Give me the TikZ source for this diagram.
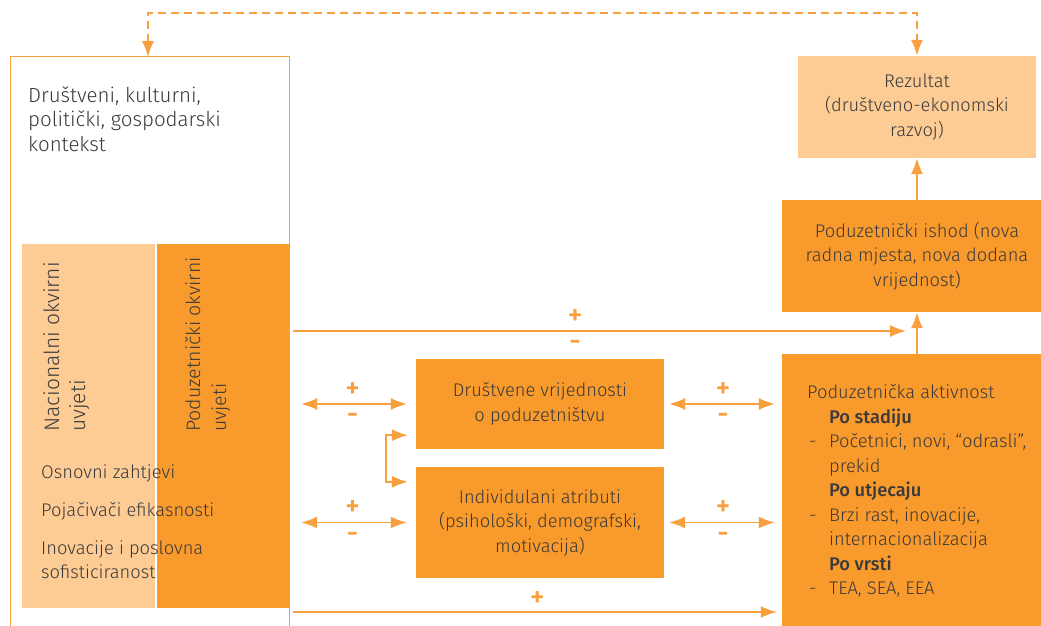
\documentclass[tikz,border=0pt]{standalone}
\usepackage{fontspec}
\setmainfont{Fira Sans}[UprightFont={* Light}, BoldFont={* Medium}]
\usetikzlibrary{arrows.meta}
\definecolor{orangedark}{HTML}{F99A2C}
\definecolor{orangelight}{HTML}{FDCB94}
\definecolor{orangeline}{HTML}{F8A03F}
\definecolor{textgrey}{HTML}{3A3A3A}

\begin{document}
\begin{tikzpicture}[x=1pt, y=-1pt,
  every node/.style={text=textgrey, font=\fontsize{18.3}{24.5}\selectfont},
  darkbox/.style={fill=orangedark, inner sep=0pt},
  lightbox/.style={fill=orangelight, inner sep=0pt},
  arr/.style={draw=orangeline, line width=1.6pt, -{Latex[length=16pt,width=12pt]}},
  dblarr/.style={draw=orangeline, line width=1.6pt, {Latex[length=16pt,width=12pt]}-{Latex[length=16pt,width=12pt]}},
  pmsign/.style={text=orangeline, inner sep=0pt, font=\fontsize{28}{28}\selectfont\bfseries}]
\useasboundingbox (0,0) rectangle (1041,626);

% Context frame, open at the bottom
\draw[orangeline, line width=1pt] (10,640) -- (10,57) -- (289,57) coordinate (ctxtr) -- (289,640);
\coordinate (ctxtop) at (148,57);
\coordinate (ctxbot) at (289,612);
\node[anchor=west, align=left, inner sep=0pt, font=\fontsize{20.5}{24.5}\selectfont] (ctxtext) at (28,119) {Društveni, kulturni,\\politički, gospodarski\\kontekst};

% Framework conditions
\node[lightbox, minimum width=133pt, minimum height=364pt] (nacion) at (88.5,426) {};
\node[darkbox, minimum width=132pt, minimum height=364pt] (poduz) at (223,426) {};
\node[rotate=90, anchor=north west, align=left, inner sep=0pt, font=\fontsize{21}{26}\selectfont] (naciontext) at (43,432) {Nacionalni okvirni\\uvjeti};
\node[rotate=90, anchor=north west, align=left, inner sep=0pt, font=\fontsize{19.5}{26}\selectfont] (poduztext) at (185,432) {Poduzetnički okvirni\\uvjeti};
\node[anchor=west, inner sep=0pt] (req) at (41,473) {Osnovni zahtjevi};
\node[anchor=west, inner sep=0pt] (eff) at (41,511) {Pojačivači efikasnosti};
\node[anchor=west, align=left, inner sep=0pt] (inov) at (41,559.5) {Inovacije i poslovna\\sofisticiranost};

% Middle boxes
\node[darkbox, minimum width=248pt, minimum height=90pt, align=center] (drust) at (540,404) {Društvene vrijednosti\\o poduzetništvu};
\node[darkbox, minimum width=248pt, minimum height=111pt, align=center] (indiv) at (540,522.5) {Individulani atributi\\(psihološki, demografski,\\motivacija)};

% Right column
\node[lightbox, minimum width=238pt, minimum height=102pt, align=center] (rez) at (917,107) {Rezultat\\(društveno-ekonomski\\razvoj)};
\node[darkbox, minimum width=270pt, minimum height=112pt, align=center] (ishod) at (917,256) {Poduzetnički ishod (nova\\radna mjesta, nova dodana\\vrijednost)};
\node[darkbox, minimum width=270pt, minimum height=290pt] (akt) at (917,499) {};
\node[anchor=west, align=left, inner sep=0pt] (akttext) at (807,491) {Poduzetnička aktivnost\\
\hspace*{22pt}\textbf{Po stadiju}\\
\makebox[22pt][l]{\hspace{2pt}-}Početnici, novi, “odrasli”,\\
\hspace*{22pt}prekid\\
\hspace*{22pt}\textbf{Po utjecaju}\\
\makebox[22pt][l]{\hspace{2pt}-}Brzi rast, inovacije,\\
\hspace*{22pt}internacionalizacija\\
\hspace*{22pt}\textbf{Po vrsti}\\
\makebox[22pt][l]{\hspace{2pt}-}TEA, SEA, EEA};

% Connectors
\draw[dblarr, dash pattern=on 8pt off 5pt] (ctxtop) -- ++(0,-44) -| (rez.north);
\draw[arr] (ishod.north) -- (rez.south);
\draw[arr] (akt.north) -- (ishod.south);
\coordinate (join) at (906,331);
\draw[arr] ([xshift=4pt]ctxtr |- join) -- (join)
  node[pmsign, pos=0.46, above=6pt] (p1) {+} node[pmsign, pos=0.46, below=9pt] (m1) {-};
\draw[arr, shorten >=5pt] ([xshift=4pt]ctxbot) -- (ctxbot -| akt.west)
  node[pmsign, midway, above=5pt] (p2) {+};
\draw[dblarr, shorten <=12pt, shorten >=9pt] (poduz.east |- drust.west) -- (drust.west)
  node[pmsign, midway, above=6pt] (p3) {+} node[pmsign, midway, below=9pt] (m3) {-};
\draw[dblarr, shorten <=12pt, shorten >=9pt] (poduz.east |- indiv.west) -- (indiv.west)
  node[pmsign, midway, above=6pt] (p4) {+} node[pmsign, midway, below=9pt] (m4) {-};
\draw[dblarr, shorten <=5pt, shorten >=7pt] (drust.east) -- (drust.east -| akt.west)
  node[pmsign, midway, above=6pt] (p5) {+} node[pmsign, midway, below=9pt] (m5) {-};
\draw[dblarr, shorten <=5pt, shorten >=7pt] (indiv.east) -- (indiv.east -| akt.west)
  node[pmsign, midway, above=6pt] (p6) {+} node[pmsign, midway, below=9pt] (m6) {-};
\draw[dblarr] ([xshift=-8pt, yshift=14pt]drust.south west) -- ++(-22,0) |- ([xshift=-8pt, yshift=-15pt]indiv.north west);
\end{tikzpicture}
\end{document}
